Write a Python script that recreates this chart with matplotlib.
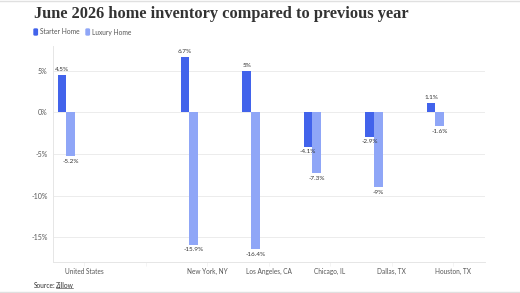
import numpy as np
import matplotlib
matplotlib.use("Agg")
import matplotlib.pyplot as plt
from matplotlib.lines import Line2D
from matplotlib.patches import FancyBboxPatch

plt.rcParams["font.family"] = ["Lato", "DejaVu Sans"]

# data
cities = ["United States", "", "New York, NY", "Los Angeles, CA", "Chicago, IL", "Dallas, TX", "Houston, TX"]
starter = [4.5, np.nan, 6.7, 5.0, -4.1, -2.9, 1.1]
luxury = [-5.2, np.nan, -15.9, -16.4, -7.3, -9.0, -1.6]
yticks = [5, 0, -5, -10, -15]

C_START = "#4263eb"
C_LUX = "#8fa6f7"
TXT = "#333333"
GRID = "#ececec"

fig = plt.figure(figsize=(5.2, 2.93), dpi=100)
ax = fig.add_axes([53 / 520, 1 - 262 / 293, 432 / 520, 216 / 293])

x = np.arange(len(cities))
w = 0.141
off = -0.285
ax.bar(x + off - w / 2, starter, width=w, color=C_START, zorder=3)
ax.bar(x + off + w / 2, luxury, width=w, color=C_LUX, zorder=3)

def lab(v):
    return f"{v:g}%"

for xi, s, l in zip(x, starter, luxury):
    for v, xx in [(s, xi + off - w / 2), (l, xi + off + w / 2)]:
        if np.isnan(v):
            continue
        if v >= 0:
            ax.text(xx, v + 0.35, lab(v), ha="center", va="bottom", fontsize=4.6, color=TXT)
        else:
            ax.text(xx, v - 0.35, lab(v), ha="center", va="top", fontsize=4.6, color=TXT)

ax.set_xlim(-0.504, 6.52)
ax.set_ylim(-18, 8)
ax.set_yticks(yticks)
ax.set_yticklabels([f"{t}%" for t in yticks])
ax.set_xticks(x)
ax.set_xticklabels(cities)
ax.tick_params(axis="y", length=0, pad=4, labelsize=5, labelcolor="#555555")
ax.tick_params(axis="x", length=3, width=0.5, color="#f0f0f0", pad=1.5, labelsize=4.7, labelcolor="#555555")
ax.grid(axis="y", color=GRID, lw=0.7, zorder=0)
for s in ["top", "right"]:
    ax.spines[s].set_visible(False)
ax.spines["left"].set_color("#e6e6e6")
ax.spines["left"].set_linewidth(0.7)
ax.spines["bottom"].set_color("#e6e6e6")
ax.spines["bottom"].set_linewidth(0.7)

# title and legend
fig.text(34 / 520, 1 - 14 / 293, "June 2026 home inventory compared to previous year",
         fontsize=11.8, fontweight="bold", family="Liberation Serif", color="#333333", va="center")
ly = 1 - 32 / 293
for label, c, xx in [("Starter Home", C_START, 34), ("Luxury Home", C_LUX, 86)]:
    fig.patches.append(FancyBboxPatch((xx / 520, ly - 3 / 293), 3.4 / 520, 6 / 293,
                                      boxstyle="round,pad=0,rounding_size=0.002",
                                      transform=fig.transFigure, color=c))
    fig.text((xx + 5.5) / 520, ly, label, fontsize=4.8, color="#555555", va="center")

fig.text(34 / 520, 1 - 285 / 293, "Source:", fontsize=4.8, color="#333333", va="center")
fig.text(56 / 520, 1 - 285 / 293, "Zillow", fontsize=4.8, color="#333333", va="center")
fig.add_artist(Line2D([56 / 520, 73 / 520], [1 - 288 / 293] * 2, color="#333333", lw=0.4))

fig.add_artist(Line2D([0, 1], [1 - 0.5 / 293] * 2, color="#e0e0e0", lw=1))
fig.add_artist(Line2D([0, 1], [1 - 291.5 / 293] * 2, color="#e0e0e0", lw=1))

fig.savefig("out.png", dpi=100)
